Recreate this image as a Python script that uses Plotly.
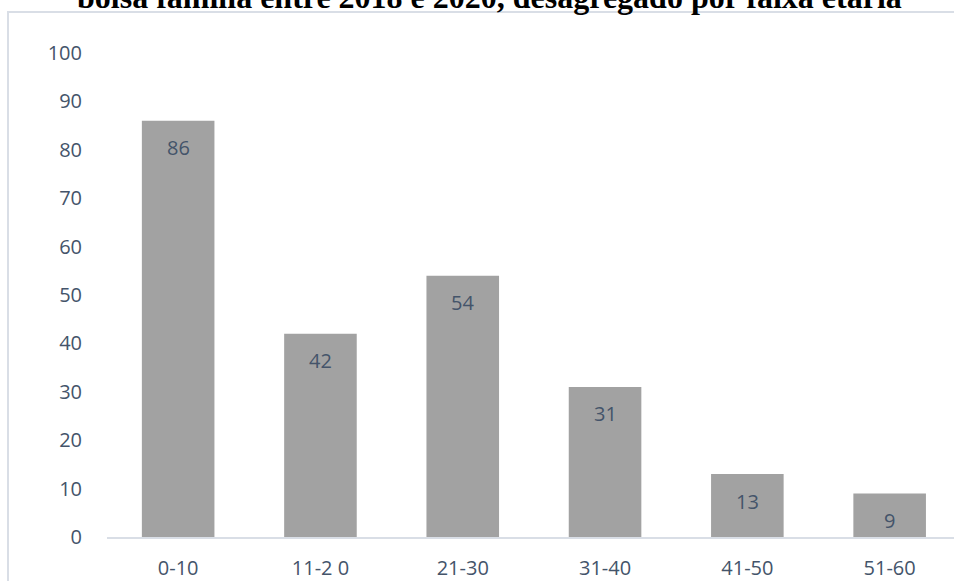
import plotly.graph_objects as go

categories = ["0-10", "11-2 0", "21-30", "31-40", "41-50", "51-60"]
values = [86, 42, 54, 31, 13, 9]
y_ticks = [0, 10, 20, 30, 40, 50, 60, 70, 80, 90, 100]

W, H = 954, 581
L, R, T, B = 107, 0, 53, 44
text_color = "#44546a"
font_family = "Open Sans, Noto Sans, sans-serif"
plot_w = W - L - R
plot_h = H - T - B

fig = go.Figure()
fig.add_trace(go.Bar(
    x=categories, y=values,
    marker=dict(color="#a2a2a2", line=dict(width=0)),
    hoverinfo="x+y",
))

for c, v in zip(categories, values):
    fig.add_annotation(x=c, y=v, xref="x", yref="y", text=str(v),
                       showarrow=False, yanchor="middle", yshift=-27,
                       font=dict(size=20, color=text_color, family=font_family))

fig.add_annotation(text="<b>bolsa família entre 2018 e 2020, desagregado por faixa etária</b>",
                   xref="paper", yref="paper", x=(489 - L) / plot_w, y=1 + (T + 3) / plot_h,
                   xanchor="center", yanchor="middle", showarrow=False,
                   font=dict(family="Liberation Serif, Times New Roman, serif", size=32, color="black"))

fig.update_layout(
    width=W, height=H,
    margin=dict(l=L, r=R, t=T, b=B, pad=0),
    paper_bgcolor="white", plot_bgcolor="white",
    bargap=0.49,
    showlegend=False,
    xaxis=dict(type="category", range=[-0.5, -0.5 + plot_w / 142.3],
               showgrid=False, zeroline=False, showline=True, linecolor="#d9dee6", linewidth=2,
               ticks="outside", ticklen=12, tickcolor="rgba(0,0,0,0)",
               tickfont=dict(size=20, color=text_color, family=font_family)),
    yaxis=dict(range=[0, 100], tickvals=y_ticks, showgrid=False, zeroline=False, showline=False,
               ticks="outside", ticklen=20, tickcolor="rgba(0,0,0,0)",
               tickfont=dict(size=20, color=text_color, family=font_family)),
    shapes=[dict(type="rect", xref="paper", yref="paper",
                 x0=(8 - L) / plot_w, x1=(W + 20 - L) / plot_w,
                 y0=-(B + 20) / plot_h, y1=1 + (T - 12) / plot_h,
                 line=dict(color="#d9dee6", width=2), fillcolor="rgba(0,0,0,0)", layer="below")],
)

fig.write_html("out.html")
